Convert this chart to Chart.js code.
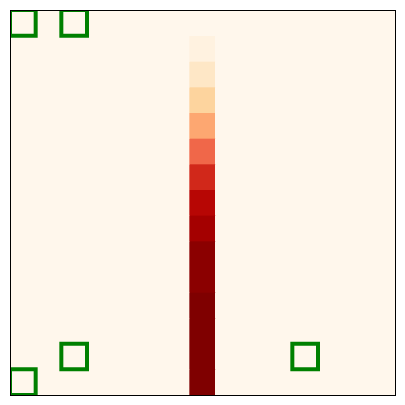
<!DOCTYPE html>
<html>
<head>
<meta charset="utf-8">
<script src="https://cdn.jsdelivr.net/npm/chart.js@4/dist/chart.umd.min.js"></script>
<style>
  html, body { margin: 0; padding: 0; background: #ffffff; }
  #wrap { width: 405px; height: 405px; }
</style>
</head>
<body>
<div id="wrap"><canvas id="graph" width="405" height="405"></canvas></div>
<script>
var nCols = 15; // colonnes de la grille
var nRows = 15; // lignes de la grille
var colLabels = ['0', '1', '2', '3', '4', '5', '6', '7', '8', '9', '10', '11', '12', '13', '14'];
// valeurs (0..1) de la colonne 7, du haut vers le bas ; toutes les autres cases valent 0
var hotColumn = 7;
var hotValues = [0, 0.04, 0.13, 0.25, 0.43, 0.62, 0.77, 0.86, 0.91, 0.97, 0.97, 1, 1, 1, 1];
// cases encadrées en vert (colonne, ligne)
var markCols = [0, 2, 2, 11, 0];
var markRows = [0, 0, 13, 13, 14];

// palette OrRd
var orrd = ['#fff7ec', '#fee8c8', '#fdd49e', '#fdbb84', '#fc8d59', '#ef6548', '#d7301f', '#b30000', '#7f0000'];

var hexToRgb = function(h) {
    return [parseInt(h.substr(1, 2), 16), parseInt(h.substr(3, 2), 16), parseInt(h.substr(5, 2), 16)];
};

var colorFor = function(v) {
    var t = Math.max(0, Math.min(1, v)) * (orrd.length - 1);
    var i = Math.min(Math.floor(t), orrd.length - 2);
    var f = t - i;
    var a = hexToRgb(orrd[i]);
    var b = hexToRgb(orrd[i + 1]);
    var c = a.map(function(x, k) { return Math.round(x + (b[k] - x) * f); });
    return 'rgb(' + c[0] + ',' + c[1] + ',' + c[2] + ')';
};

var cellValue = function(col, row) {
    return col === hotColumn ? hotValues[row] : 0;
};

// une série de barres flottantes par ligne
var datasets = [];
for (var r = 0; r < nRows; r++) {
    var data = [];
    var colors = [];
    for (var c = 0; c < nCols; c++) {
        data.push([r, r + 1]);
        colors.push(colorFor(cellValue(c, r)));
    }
    datasets.push({
        type: 'bar',
        data: data,
        backgroundColor: colors,
        borderWidth: 0,
        barPercentage: 1,
        categoryPercentage: 1,
        grouped: false,
        order: 2
    });
}

// carrés verts
datasets.push({
    type: 'scatter',
    data: markCols.map(function(c, i) { return { x: colLabels[c], y: markRows[i] + 0.5 }; }),
    pointStyle: 'rect',
    pointRadius: 18.15,
    pointHoverRadius: 18.15,
    pointBorderWidth: 4,
    pointBorderColor: '#008000',
    pointBackgroundColor: 'rgba(0,0,0,0)',
    showLine: false,
    clip: 0,
    order: 0
});

// cadre noir autour de la zone du graphe
var frame = {
    id: 'frame',
    afterDraw: function(chart) {
        var a = chart.chartArea;
        var ctx = chart.ctx;
        ctx.save();
        ctx.strokeStyle = '#000000';
        ctx.lineWidth = 1;
        ctx.strokeRect(a.left + 0.5, a.top + 0.5, a.right - a.left, a.bottom - a.top);
        ctx.restore();
    }
};

window.onload = function() {
    var ctx = document.getElementById('graph').getContext('2d');
    window.myChart = new Chart(ctx, {
        type: 'bar',
        data: { labels: colLabels, datasets: datasets },
        options: {
            responsive: false,
            animation: false,
            layout: { autoPadding: false, padding: { left: 10, top: 10, right: 10, bottom: 10 } },
            plugins: { legend: { display: false }, tooltip: { enabled: false } },
            scales: {
                x: { type: 'category', display: false, offset: true },
                y: { type: 'linear', display: false, min: 0, max: nRows, reverse: true }
            }
        },
        plugins: [frame]
    });
};
</script>
</body>
</html>
